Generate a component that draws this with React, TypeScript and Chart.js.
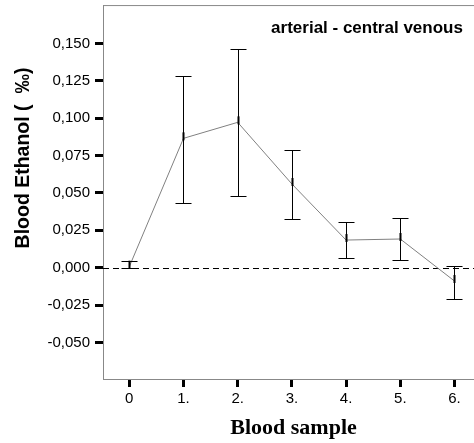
import React, { useEffect, useRef } from "react";
import { Chart, registerables } from "chart.js";

Chart.register(...registerables);

const sampleLabels = ["0", "1.", "2.", "3.", "4.", "5.", "6."];
const sampleIndex = [0, 1, 2, 3, 4, 5, 6];
const meanValues = [0.0007, 0.0865, 0.0972, 0.056, 0.0185, 0.0192, -0.0089];
const upperValues = [0.0047, 0.1283, 0.146, 0.079, 0.0307, 0.0331, 0.0013];
const lowerValues = [-0.0003, 0.043, 0.048, 0.0324, 0.0063, 0.0053, -0.0207];
const yTickValues = [-0.05, -0.025, 0, 0.025, 0.05, 0.075, 0.1, 0.125, 0.15];
const titleText = "arterial - central venous";
const yTitle = "Blood Ethanol (  \u2030)";
const xTitle = "Blood sample";

const fmt = (v: number) => {
  const s = Math.abs(v).toFixed(3).replace(".", ",");
  return v < -1e-9 ? "-" + s : s;
};

const decorPlugin = {
  id: "decor",
  beforeDatasetsDraw(chart: any) {
    const { ctx, chartArea, scales } = chart;
    const y = scales.y;
    ctx.save();
    ctx.strokeStyle = "#888888";
    ctx.lineWidth = 1;
    ctx.beginPath();
    ctx.moveTo(chartArea.left, chartArea.top + 0.5);
    ctx.lineTo(chartArea.right, chartArea.top + 0.5);
    ctx.stroke();
    const y0 = Math.round(y.getPixelForValue(0)) + 0.5;
    ctx.strokeStyle = "#000000";
    ctx.setLineDash([6, 4]);
    ctx.beginPath();
    ctx.moveTo(chartArea.left, y0);
    ctx.lineTo(chartArea.right, y0);
    ctx.stroke();
    ctx.setLineDash([]);
    ctx.restore();
  },
  afterDatasetsDraw(chart: any) {
    const { ctx, scales } = chart;
    const x = scales.x;
    const y = scales.y;
    ctx.save();
    ctx.strokeStyle = "#000000";
    const cap = 8;
    sampleIndex.forEach((xi, i) => {
      const px = Math.round(x.getPixelForValue(xi)) + 0.5;
      const pu = Math.round(y.getPixelForValue(upperValues[i])) + 0.5;
      const pl = Math.round(y.getPixelForValue(lowerValues[i])) + 0.5;
      const pm = y.getPixelForValue(meanValues[i]);
      ctx.lineWidth = 1;
      ctx.beginPath();
      ctx.moveTo(px, pu);
      ctx.lineTo(px, pl);
      ctx.moveTo(px - cap, pu);
      ctx.lineTo(px + cap, pu);
      ctx.moveTo(px - cap, pl);
      ctx.lineTo(px + cap, pl);
      ctx.stroke();
      ctx.lineWidth = 2;
      ctx.beginPath();
      ctx.moveTo(px, pm - 6);
      ctx.lineTo(px, pm + 2);
      ctx.stroke();
    });
    ctx.restore();
  },
  afterDraw(chart: any) {
    const { ctx, chartArea } = chart;
    ctx.save();
    ctx.fillStyle = "#000000";
    ctx.textAlign = "center";
    ctx.textBaseline = "alphabetic";
    ctx.font = "bold 17px 'Liberation Sans', Arial, sans-serif";
    ctx.fillText(titleText, 367, 33);
    ctx.font = "bold 22px 'Liberation Serif', 'Times New Roman', serif";
    ctx.fillText(xTitle, (chartArea.left + chartArea.right) / 2 + 5, 434);
    ctx.translate(29, 158);
    ctx.rotate(-Math.PI / 2);
    ctx.font = "bold 19.5px 'Liberation Sans', Arial, sans-serif";
    ctx.fillText(yTitle, 0, 0);
    ctx.restore();
  },
};

export default function App() {
  const ref = useRef<HTMLCanvasElement | null>(null);
  useEffect(() => {
    if (!ref.current) return;
    const chart = new Chart(ref.current, {
      type: "line",
      data: {
        datasets: [
          {
            data: sampleIndex.map((xi, i) => ({ x: xi, y: meanValues[i] })),
            borderColor: "#808080",
            borderWidth: 1,
            pointRadius: 0,
            fill: false,
            tension: 0,
          },
        ],
      },
      options: {
        responsive: false,
        animation: false,
        layout: { padding: { top: 5, left: 0, right: 0, bottom: 0 } },
        plugins: {
          legend: { display: false },
          tooltip: { enabled: false },
          title: { display: false },
        },
        scales: {
          x: {
            type: "linear",
            min: -0.485,
            max: 6.36,
            afterFit: (s: any) => {
              s.height = 64;
            },
            afterBuildTicks: (s: any) => {
              s.ticks = sampleIndex.map((v) => ({ value: v }));
            },
            ticks: {
              callback: (v: any) => sampleLabels[Math.round(Number(v))] ?? "",
              font: { family: "'Liberation Sans', Arial, sans-serif", size: 15 },
              color: "#000000",
              padding: 3,
              maxRotation: 0,
              autoSkip: false,
            },
            grid: {
              drawOnChartArea: false,
              drawTicks: true,
              tickLength: 8,
              tickWidth: 3,
              tickColor: "#000000",
            },
            border: { display: true, color: "#888888", width: 1 },
          },
          y: {
            type: "linear",
            min: -0.0744,
            max: 0.1756,
            afterFit: (s: any) => {
              s.width = 103;
            },
            afterBuildTicks: (s: any) => {
              s.ticks = yTickValues.map((v) => ({ value: v }));
            },
            ticks: {
              callback: (v: any) => fmt(Number(v)),
              font: { family: "'Liberation Sans', Arial, sans-serif", size: 15, lineHeight: 0.01 },
              color: "#000000",
              padding: 5,
              autoSkip: false,
            },
            grid: {
              drawOnChartArea: false,
              drawTicks: true,
              tickLength: 8,
              tickWidth: 3,
              tickColor: "#000000",
            },
            border: { display: true, color: "#888888", width: 1 },
          },
        },
      },
      plugins: [decorPlugin],
    } as any);
    return () => chart.destroy();
  }, []);
  return (
    <div style={{ position: "absolute", left: 0, top: 0, width: 474, height: 443, background: "#fff" }}>
      <canvas ref={ref} width={474} height={443} />
    </div>
  );
}
